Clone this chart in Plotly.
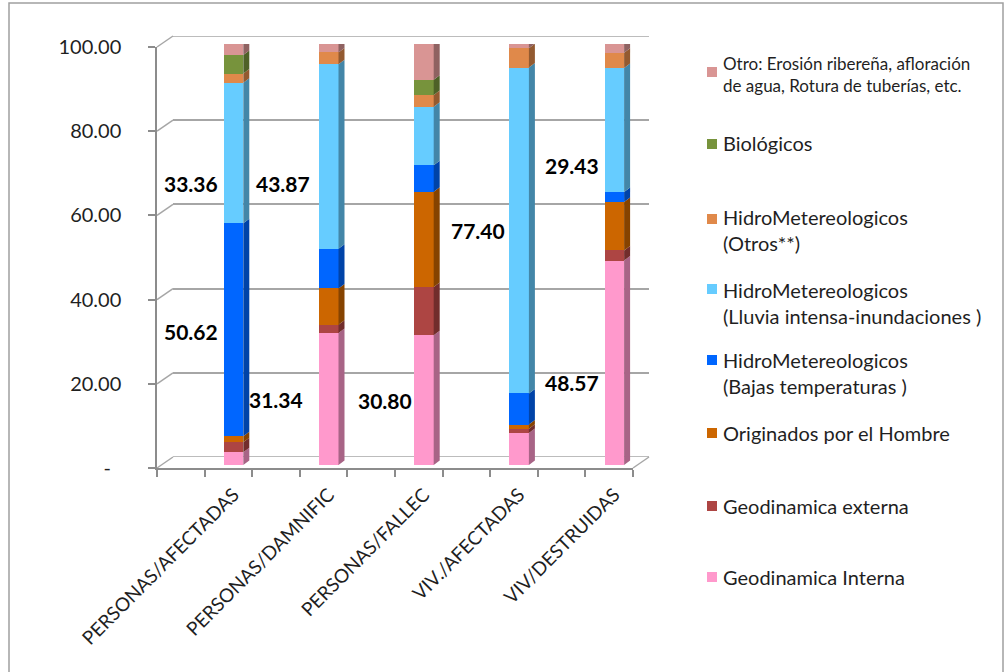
import plotly.graph_objects as go

# ---- data -------------------------------------------------------------
categories = ["PERSONAS/AFECTADAS", "PERSONAS/DAMNIFIC", "PERSONAS/FALLEC",
              "VIV./AFECTADAS", "VIV/DESTRUIDAS"]

# stacked from the bottom of each column upwards (percent)
geo_interna = [3.0, 31.34, 30.80, 7.6, 48.57]
geo_externa = [2.4, 2.0, 11.5, 1.0, 2.4]
por_hombre = [1.4, 8.6, 22.6, 1.0, 11.5]
bajas_temp = [50.62, 9.4, 6.3, 7.4, 2.4]
lluvia = [33.36, 43.87, 13.9, 77.40, 29.43]
hidro_otros = [2.2, 2.8, 2.8, 4.6, 3.6]
biologicos = [4.4, 0.0, 3.6, 0.0, 0.0]
otro = [2.6, 2.0, 8.5, 1.0, 2.1]

series_names = [
    "Geodinamica Interna",
    "Geodinamica externa",
    "Originados por el Hombre",
    "HidroMetereologicos<br>(Bajas temperaturas )",
    "HidroMetereologicos<br>(Lluvia intensa-inundaciones )",
    "HidroMetereologicos<br>(Otros**)",
    "Biológicos",
    "Otro: Erosión ribereña, afloración<br>de agua, Rotura de tuberías, etc.",
]
series_values = [geo_interna, geo_externa, por_hombre, bajas_temp,
                 lluvia, hidro_otros, biologicos, otro]

y_ticks = [0, 20, 40, 60, 80, 100]
y_tick_text = ["-\u00a0\u00a0", "20.00", "40.00", "60.00", "80.00", "100.00"]

# ---- styling ----------------------------------------------------------
colors = ["#FF99CC", "#AD4543", "#CC6600", "#0066FF",
          "#66CCFF", "#E0894A", "#77933C", "#D99594"]

W, H = 1005, 672
FONT = "Lato, 'Open Sans', sans-serif"
TXT = "#1F1F1F"
GRID = "#A6A6A6"
AXIS = "#8C8C8C"

# pixel frame of the pseudo-3D box
FRONT_X0, FRONT_X1 = 157, 633        # front floor edge
FRONT_Y0, FRONT_Y100 = 468, 47       # front axis 0 / 100
BACK_X0, BACK_X1 = 173, 649          # back wall
BACK_Y0, BACK_Y100 = 457, 36
BAR_Y0, BAR_Y100 = 465, 44           # column plane
X_RANGE = [-0.804, 4.196]
BAR_W = 0.205
DEPTH_PX = (6, 4.5)                  # side/top face offset of the columns


def px(v, total):
    return v / total


def py(v):
    return 1 - v / H


def shade(hex_color, f):
    r, g, b = (int(hex_color[i:i + 2], 16) for i in (1, 3, 5))
    return "#{:02X}{:02X}{:02X}".format(int(r * f), int(g * f), int(b * f))


fig = go.Figure()

# empty carriers so the frame and back-wall subplots get drawn
for xa, ya in (("x", "y"), ("x2", "y2")):
    fig.add_trace(go.Scatter(x=[None], y=[None], xaxis=xa, yaxis=ya,
                             mode="markers", showlegend=False, hoverinfo="skip"))

# ---- columns ----------------------------------------------------------
xs = list(range(len(categories)))
for name, vals, col in zip(series_names, series_values, colors):
    fig.add_trace(go.Bar(
        x=xs, y=vals, name=name, width=BAR_W,
        marker=dict(color=col, line=dict(width=0)),
        xaxis="x3", yaxis="y3", showlegend=False,
        hovertemplate="%{y:.2f}<extra></extra>",
    ))

# side and top faces of the columns, derived from the stacked values
ux = (X_RANGE[1] - X_RANGE[0]) / (FRONT_X1 - FRONT_X0)
uy = 100.0 / (BAR_Y0 - BAR_Y100)
dx, dy = DEPTH_PX[0] * ux, DEPTH_PX[1] * uy
shapes = []
for i in xs:
    base = 0.0
    top_col = None
    xl, xr = i - BAR_W / 2, i + BAR_W / 2
    for vals, col in zip(series_values, colors):
        v = vals[i]
        if v <= 0:
            continue
        t = base + v
        shapes.append(dict(
            type="path", xref="x3", yref="y3", layer="above",
            path=f"M {xr},{base} L {xr + dx},{base + dy} L {xr + dx},{t + dy} L {xr},{t} Z",
            fillcolor=shade(col, 0.66), line=dict(width=0)))
        base = t
        top_col = col
    shapes.append(dict(
        type="path", xref="x3", yref="y3", layer="above",
        path=f"M {xl},{base} L {xr},{base} L {xr + dx},{base + dy} L {xl + dx},{base + dy} Z",
        fillcolor=shade(top_col, 0.82), line=dict(width=0)))

# back wall top edge and floor back edge
for v in (y_ticks[0], y_ticks[-1]):
    shapes.append(dict(
        type="line", xref="x2 domain", yref="y2", layer="below",
        x0=0, x1=1, y0=v, y1=v, line=dict(color=GRID, width=1.5)))

# left wall gridline connectors and the right floor edge
front_scale = (FRONT_Y0 - FRONT_Y100) / 100.0
back_scale = (BACK_Y0 - BACK_Y100) / 100.0
for v in y_ticks:
    shapes.append(dict(
        type="line", xref="paper", yref="paper", layer="below",
        x0=px(FRONT_X0, W), y0=py(FRONT_Y0 - v * front_scale),
        x1=px(BACK_X0, W), y1=py(BACK_Y0 - v * back_scale),
        line=dict(color=GRID, width=1.5)))
shapes.append(dict(
    type="line", xref="paper", yref="paper", layer="below",
    x0=px(FRONT_X1, W), y0=py(FRONT_Y0), x1=px(BACK_X1, W), y1=py(BACK_Y0),
    line=dict(color=GRID, width=1.5)))

# chart area border
shapes.append(dict(type="rect", xref="paper", yref="paper",
                   x0=px(9, W), x1=px(1003, W), y0=-0.02, y1=py(3),
                   line=dict(color="#A0A0A0", width=1.5), fillcolor="rgba(0,0,0,0)"))

# ---- legend ------------------------------------------------------------
legend_square_y = [577, 506, 433, 360, 289, 219, 144, 72]
legend_text_y = [577, 506, 433, 373, 303, 230, 143, 74]
legend_font = [20, 20, 20, 20, 20, 20, 20, 17]
annotations = []
for name, col, sy, ty, fs in zip(series_names, colors, legend_square_y,
                                 legend_text_y, legend_font):
    shapes.append(dict(type="rect", xref="paper", yref="paper",
                       x0=px(707, W), x1=px(717, W),
                       y0=py(sy + 5), y1=py(sy - 5),
                       fillcolor=col, line=dict(width=0)))
    annotations.append(dict(
        xref="paper", yref="paper", x=px(721, W), y=py(ty),
        xanchor="left", yanchor="middle", align="left", showarrow=False,
        text=name, font=dict(family=FONT, size=fs, color=TXT)))

# ---- value labels -------------------------------------------------------
label_shift = {  # (series, column): (x offset, y offset) in px
    (3, 0): (-43, -2), (4, 0): (-43, -30),
    (0, 1): (-53, 0), (4, 1): (-46, -27),
    (0, 2): (-39, 0),
    (4, 3): (-41, 0),
    (0, 4): (-42, -20), (4, 4): (-42, -36),
}
for (s, i), (sx, sy) in label_shift.items():
    base = sum(series_values[k][i] for k in range(s))
    v = series_values[s][i]
    annotations.append(dict(
        xref="x3", yref="y3", x=i, y=base + v / 2, xshift=sx, yshift=sy,
        text=f"<b>{v:.2f}</b>", showarrow=False,
        font=dict(family=FONT, size=21, color="#000000")))

# ---- axes ----------------------------------------------------------------
fig.update_layout(
    width=W, height=H,
    margin=dict(l=0, r=0, t=0, b=0, pad=0, autoexpand=False),
    paper_bgcolor="white", plot_bgcolor="rgba(0,0,0,0)",
    barmode="stack", bargap=0,
    font=dict(family=FONT, color=TXT),
    showlegend=False,
    # front frame: value axis and floor edge
    xaxis=dict(domain=[px(FRONT_X0, W), px(FRONT_X1, W)], range=[0, 10],
               tickvals=list(range(11)), ticks="outside", ticklen=7,
               tickcolor=AXIS, tickwidth=1.5, showticklabels=False,
               showline=True, linecolor=AXIS, linewidth=1.5,
               showgrid=False, zeroline=False, anchor="y", fixedrange=True,
               automargin=False),
    yaxis=dict(domain=[py(FRONT_Y0), py(FRONT_Y100)], range=[0, 100],
               tickvals=y_ticks, ticktext=y_tick_text, ticks="outside",
               ticklen=7, tickcolor=AXIS, tickwidth=1.5,
               ticklabelstandoff=23,
               tickfont=dict(family=FONT, size=20, color=TXT),
               showline=True, linecolor=AXIS, linewidth=1.5,
               showgrid=False, zeroline=False, anchor="x", fixedrange=True,
               automargin=False),
    # back wall gridlines
    xaxis2=dict(domain=[px(BACK_X0, W), px(BACK_X1, W)], range=[0, 1],
                showticklabels=False, ticks="", showline=False, showgrid=False,
                zeroline=False, anchor="y2", fixedrange=True, automargin=False),
    yaxis2=dict(domain=[py(BACK_Y0), py(BACK_Y100)], range=[0, 100],
                tickvals=y_ticks, showticklabels=False, ticks="",
                showgrid=True, gridcolor=GRID, gridwidth=1.5,
                showline=False, zeroline=False, anchor="x2", fixedrange=True,
                automargin=False),
    # columns and category labels
    xaxis3=dict(domain=[px(FRONT_X0, W), px(FRONT_X1, W)], range=X_RANGE,
                tickvals=xs, ticktext=categories, tickangle=-45, ticks="",
                ticklabelstandoff=14,
                tickfont=dict(family=FONT, size=19, color=TXT),
                showline=False, showgrid=False, zeroline=False,
                anchor="y3", fixedrange=True, automargin=False),
    yaxis3=dict(domain=[py(BAR_Y0), py(BAR_Y100)], range=[0, 100],
                visible=False, anchor="x3", fixedrange=True, automargin=False),
    shapes=shapes,
    annotations=annotations,
)

fig.write_html("out.html", config={"displayModeBar": False})
